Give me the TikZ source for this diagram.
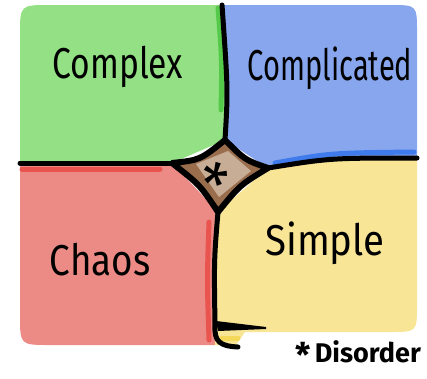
\documentclass[tikz,border=0pt]{standalone}
\usepackage{fontspec}
\setmainfont{Fira Sans}
\definecolor{cGreen}{HTML}{93E184}
\definecolor{cGreenD}{HTML}{55C94A}
\definecolor{cBlue}{HTML}{87A6EE}
\definecolor{cBlueD}{HTML}{3F7BEB}
\definecolor{cRed}{HTML}{EC8A85}
\definecolor{cRedD}{HTML}{E9544F}
\definecolor{cYellow}{HTML}{F8E596}
\definecolor{cYellowD}{HTML}{F3D85A}
\definecolor{cBrown}{HTML}{9A6E4D}
\definecolor{cBrownL}{HTML}{C8AD96}
\newcommand{\handtext}[2]{\scalebox{#1}[1.35]{#2}}
\tikzset{
  border-line/.style={line width=5pt,line cap=round,line join=round,draw=black},
  edge-strip/.style={line width=5pt,line cap=round},
  domain-label/.style={font=\fontsize{32}{32}\selectfont,text=black,
    inner sep=0pt,anchor=base},
}
\begin{document}
\begin{tikzpicture}[x=1pt,y=-1pt]
  \useasboundingbox (0,0) rectangle (427,378);
  % the four domains
  \fill[cGreen] (20,163) -- (20,35) .. controls (20,5) .. (50,5) -- (222,5)
    .. controls (228,90) .. (225,140) -- (172,163) -- cycle;
  \fill[cBlue] (222,5) -- (390,5) .. controls (417,5) .. (417,32) -- (417,158)
    .. controls (330,158) .. (268,168) -- (225,140) .. controls (228,90) .. cycle;
  \fill[cRed] (20,163) -- (172,163) -- (218,212) .. controls (214,260) .. (215,345)
    -- (50,345) .. controls (20,345) .. (20,315) -- cycle;
  \fill[cYellow] (218,212) -- (268,168) .. controls (330,158) .. (417,158)
    -- (417,305) .. controls (417,332) .. (390,332) -- (245,332)
    -- (236,345) -- (215,345) .. controls (214,260) .. cycle;
  % darker edges of the strokes
  \draw[edge-strip,cGreenD] (218,8) .. controls (222,60) .. (221,110);
  \draw[edge-strip,cBlueD] (275,163) .. controls (330,153) .. (414,152);
  \draw[edge-strip,cRedD] (22,169) -- (160,169);
  \draw[edge-strip,cRedD] (209,222) .. controls (207,280) .. (209,340);
  \draw[edge-strip,cYellowD] (222,338) -- (238,338);
  % disorder in the middle
  \fill[cBrown] (172,163) .. controls (200,160) .. (225,140)
    .. controls (245,160) .. (268,168) .. controls (240,185) .. (218,212)
    .. controls (200,185) .. cycle;
  \fill[cBrownL] (196,164) -- (228,151) -- (251,171) -- (219,197) -- cycle;
  % boundaries
  \draw[border-line] (222,5) .. controls (228,90) .. (225,140);
  \draw[border-line] (20,163) -- (172,163);
  \draw[border-line] (268,168) .. controls (330,158) .. (417,158);
  \draw[border-line] (218,212) .. controls (214,260) .. (215,325)
    .. controls (214,342) and (220,346) .. (238,347);
  \draw[border-line,line width=6pt] (172,163) .. controls (200,160) .. (225,140)
    .. controls (245,160) .. (268,168) .. controls (240,185) .. (218,212)
    .. controls (200,185) .. cycle;
  \fill (216,321) -- (266,327) -- (266,329) -- (218,331) -- cycle;
  % labels
  \node[domain-label] (complex) at (118,78) {\handtext{1.05}{Complex}};
  \node[domain-label] (complicated) at (330,80) {\handtext{0.91}{Complicated}};
  \node[domain-label] (chaos) at (100,275) {\handtext{1.15}{Chaos}};
  \node[domain-label] (simple) at (325,255) {\handtext{1.2}{Simple}};
  \node[font=\fontsize{60}{60}\selectfont,inner sep=0pt,anchor=north,
    rotate=-15] (star) at (219,163) {*};
  \node[font=\fontsize{27}{27}\selectfont\bfseries,inner sep=0pt,anchor=base east]
    (disorder) at (421,362)
    {\raisebox{-0.2em}{\fontsize{34}{34}\selectfont *}\,Disorder};
\end{tikzpicture}
\end{document}
